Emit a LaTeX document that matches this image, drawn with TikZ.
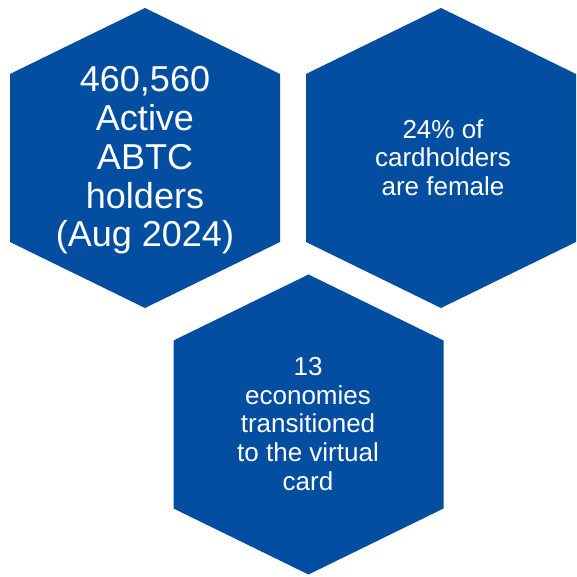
\documentclass[tikz,border=0pt]{standalone}
\usepackage{fontspec}
\setmainfont{Liberation Sans}
\definecolor{hexblue}{RGB}{4,78,162}
\tikzset{
  hexfill/.style={fill=hexblue},
  hextext/.style={text=white, align=center},
  bigtext/.style={hextext, font=\fontsize{36}{38.8}\selectfont},
  smalltext/.style={hextext, font=\fontsize{26}{28.6}\selectfont}
}
% pointy-top hexagon around a centre
\newcommand\hexagonat[1]{%
  \fill[hexfill] (#1) ++(0,150) -- ++(135,-66) -- ++(0,-168) -- ++(-135,-66)
    -- ++(-135,66) -- ++(0,168) -- cycle;}
\begin{document}
\begin{tikzpicture}[x=1pt, y=1pt]
    \useasboundingbox (0,0) rectangle (577,577);
    \clip (0,0) rectangle (577,577);
    \coordinate (c1) at (145,419);
    \coordinate (c2) at (441,419);
    \coordinate (c3) at (308.5,152.5);
    \hexagonat{c1}
    \hexagonat{c2}
    \hexagonat{c3}
    \node [bigtext] (holders) at (145,416.5)
      {460,560\\Active\\ABTC\\holders\\(Aug 2024)};
    \node [smalltext] (female) at (443,419.5)
      {24\% of\\cardholders\\are female};
    \node [smalltext] (virtual) at (308,153)
      {13\\economies\\transitioned\\to the virtual\\card};
  \end{tikzpicture}
\end{document}
